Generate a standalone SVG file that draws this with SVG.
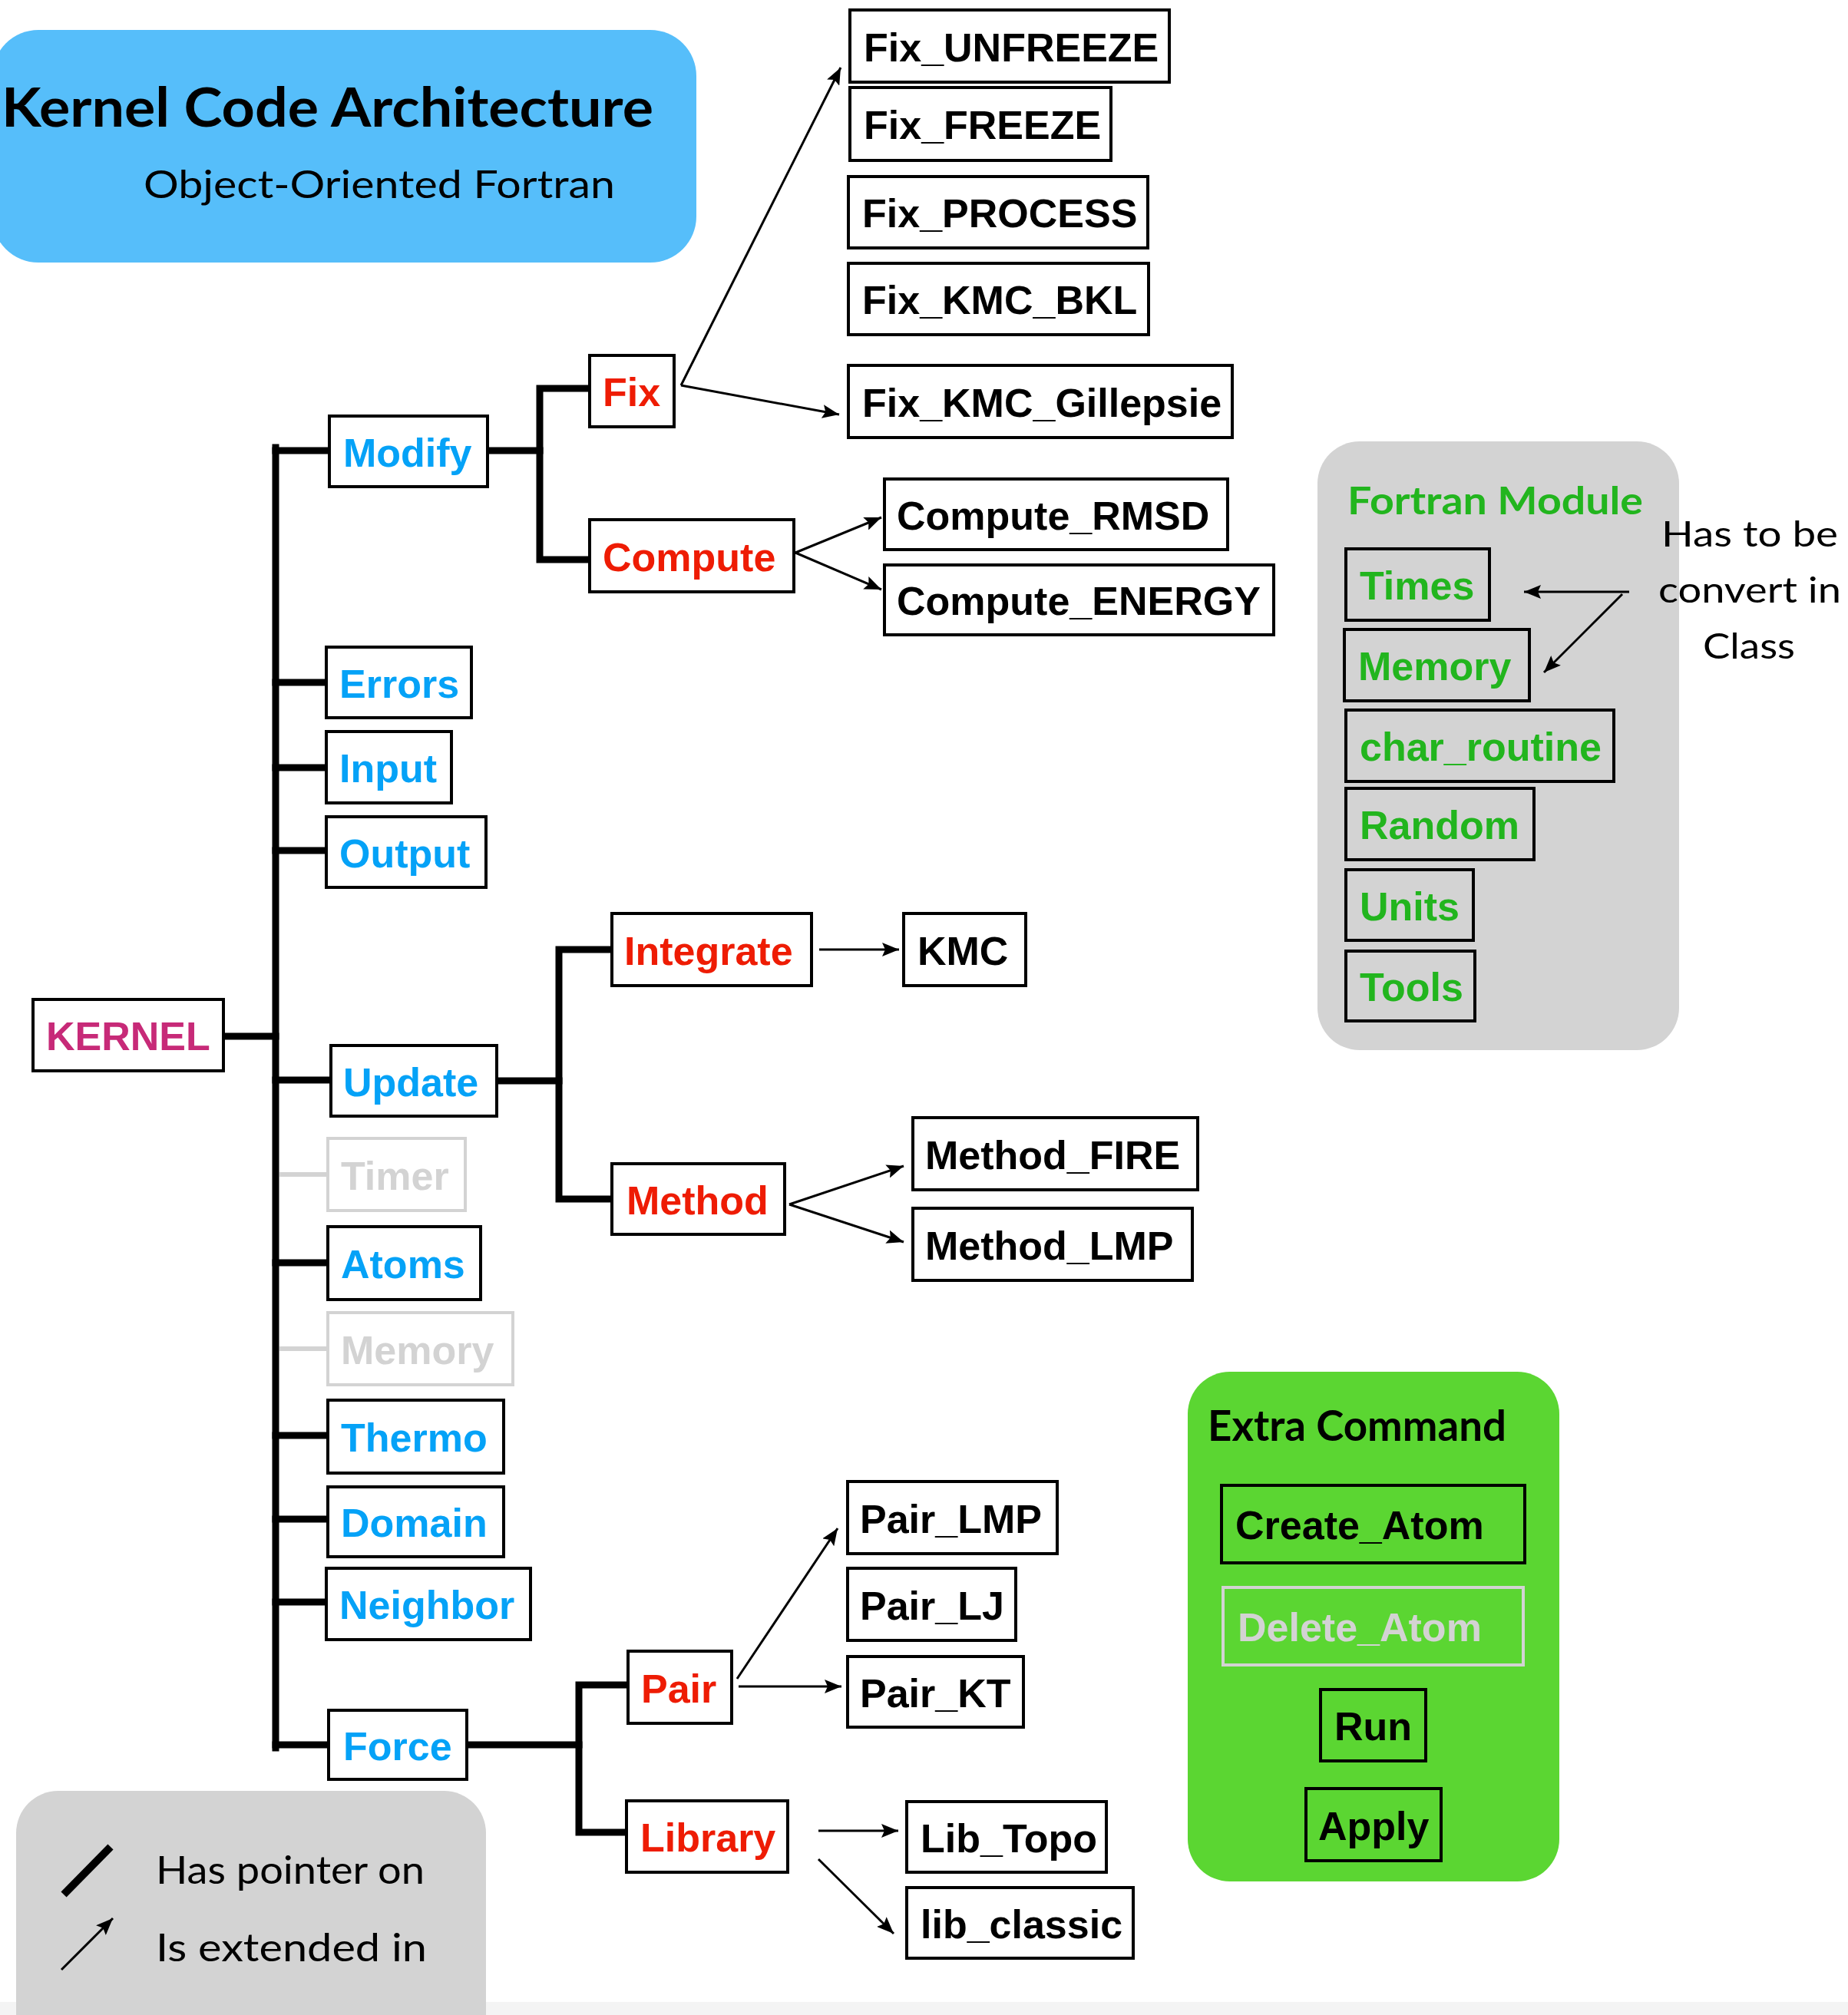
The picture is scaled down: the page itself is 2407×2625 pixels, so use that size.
<svg xmlns="http://www.w3.org/2000/svg" width="2407" height="2625" viewBox="0 0 2407 2625">
  <style>
    .box { fill: #ffffff; stroke: #000000; stroke-width: 4; }
    .obox { fill: none; stroke: #000000; stroke-width: 4; }
    .dim { fill: #ffffff; stroke: #d3d3d3; stroke-width: 4; }
    .dimo { fill: none; stroke: #d3d3d3; stroke-width: 4; }
    .t { font-family: "Liberation Sans", Arial, Helvetica, sans-serif; font-weight: bold; font-size: 52px; }
    .blue { fill: #05a2f7; }
    .red { fill: #ee1c04; }
    .blk { fill: #000000; }
    .grn { fill: #22b51e; }
    .gry { fill: #d3d3d3; }
    .mag { fill: #c72a78; }
    .hand { font-family: Lato, "DejaVu Sans", sans-serif; fill: #000000; }
    .tree { fill: none; stroke: #000000; stroke-width: 9; stroke-linecap: square; }
    .faint { fill: none; stroke: #d3d3d3; stroke-width: 6; }
    .arr { fill: none; stroke: #000000; stroke-width: 3; marker-end: url(#head); }
  </style>
  <defs>
    <marker id="head" markerUnits="userSpaceOnUse" markerWidth="24" markerHeight="18" refX="22" refY="9" orient="auto">
      <path d="M0,0 L22,9 L0,18 L4,9 z" fill="#000000"/>
    </marker>
  </defs>

  <rect x="0" y="0" width="2407" height="2625" fill="#ffffff"/>
  <rect x="0" y="2608" width="2407" height="17" fill="#f4f4f4"/>

  <!-- title panel -->
  <g id="title">
    <rect x="-10" y="39" width="917" height="303" rx="60" fill="#56befa"/>
    <text class="hand" x="2" y="165" font-size="70" font-weight="bold" textLength="849" lengthAdjust="spacingAndGlyphs">Kernel Code Architecture</text>
    <text class="hand" x="187" y="258" font-size="51" textLength="614" lengthAdjust="spacingAndGlyphs">Object-Oriented Fortran</text>
  </g>

  <!-- tree connectors and extension arrows -->
  <g id="connectors">
    <path class="tree" d="M359,583 V2277"/>
    <path class="tree" d="M291,1350 H359"/>
    <path class="tree" d="M359,587 H429"/>
    <path class="tree" d="M359,889 H425"/>
    <path class="tree" d="M359,1000 H425"/>
    <path class="tree" d="M359,1108 H425"/>
    <path class="tree" d="M359,1407 H431"/>
    <path class="faint" d="M364,1530 H427"/>
    <path class="tree" d="M359,1645 H427"/>
    <path class="faint" d="M364,1757 H427"/>
    <path class="tree" d="M359,1870 H427"/>
    <path class="tree" d="M359,1979 H427"/>
    <path class="tree" d="M359,2087 H425"/>
    <path class="tree" d="M359,2273 H428"/>

    <path class="tree" d="M635,587 H703"/>
    <path class="tree" d="M768,506 H703 V729 H768"/>
    <path class="tree" d="M647,1408 H728"/>
    <path class="tree" d="M797,1237 H728 V1562 H797"/>
    <path class="tree" d="M608,2273 H754"/>
    <path class="tree" d="M818,2195 H754 V2387 H816"/>

    <path class="arr" d="M887,502 L1095,88"/>
    <path class="arr" d="M887,502 L1093,540"/>
    <path class="arr" d="M1036,720 L1148,674"/>
    <path class="arr" d="M1036,720 L1148,768"/>
    <path class="arr" d="M1067,1237 L1171,1237"/>
    <path class="arr" d="M1028,1569 L1177,1519"/>
    <path class="arr" d="M1028,1569 L1177,1618"/>
    <path class="arr" d="M960,2187 L1091,1991"/>
    <path class="arr" d="M962,2197 L1096,2197"/>
    <path class="arr" d="M1066,2385 L1170,2385"/>
    <path class="arr" d="M1066,2422 L1164,2519"/>
  </g>

  <!-- root -->
  <g id="kernel"><rect class="box" x="43" y="1302" width="248" height="93"/><text class="t mag" x="60" y="1368">KERNEL</text></g>

  <!-- first level -->
  <g id="modify"><rect class="box" x="429" y="542" width="206" height="92"/><text class="t blue" x="447" y="608">Modify</text></g>
  <g id="errors"><rect class="box" x="425" y="843" width="189" height="92"/><text class="t blue" x="442" y="909">Errors</text></g>
  <g id="input"><rect class="box" x="425" y="953" width="163" height="93"/><text class="t blue" x="442" y="1019">Input</text></g>
  <g id="output"><rect class="box" x="425" y="1064" width="208" height="92"/><text class="t blue" x="442" y="1130">Output</text></g>
  <g id="update"><rect class="box" x="431" y="1362" width="216" height="92"/><text class="t blue" x="447" y="1428">Update</text></g>
  <g id="timer"><rect class="dim" x="427" y="1483" width="179" height="94"/><text class="t gry" x="444" y="1550">Timer</text></g>
  <g id="atoms"><rect class="box" x="427" y="1598" width="199" height="95"/><text class="t blue" x="444" y="1665">Atoms</text></g>
  <g id="memory"><rect class="dim" x="427" y="1710" width="241" height="94"/><text class="t gry" x="444" y="1777">Memory</text></g>
  <g id="thermo"><rect class="box" x="427" y="1824" width="229" height="95"/><text class="t blue" x="444" y="1891">Thermo</text></g>
  <g id="domain"><rect class="box" x="427" y="1937" width="229" height="91"/><text class="t blue" x="444" y="2002">Domain</text></g>
  <g id="neighbor"><rect class="box" x="425" y="2043" width="266" height="93"/><text class="t blue" x="442" y="2109">Neighbor</text></g>
  <g id="force"><rect class="box" x="428" y="2228" width="180" height="90"/><text class="t blue" x="447" y="2293">Force</text></g>

  <!-- second level -->
  <g id="fix"><rect class="box" x="768" y="463" width="110" height="93"/><text class="t red" x="785" y="529">Fix</text></g>
  <g id="compute"><rect class="box" x="768" y="677" width="266" height="94"/><text class="t red" x="785" y="744">Compute</text></g>
  <g id="integrate"><rect class="box" x="797" y="1190" width="260" height="94"/><text class="t red" x="813" y="1257">Integrate</text></g>
  <g id="method"><rect class="box" x="797" y="1516" width="225" height="92"/><text class="t red" x="816" y="1582">Method</text></g>
  <g id="pair"><rect class="box" x="818" y="2151" width="135" height="94"/><text class="t red" x="835" y="2218">Pair</text></g>
  <g id="library"><rect class="box" x="816" y="2346" width="210" height="93"/><text class="t red" x="834" y="2412">Library</text></g>

  <!-- extensions -->
  <g id="fix-unfreeze"><rect class="box" x="1107" y="13" width="416" height="94"/><text class="t blk" x="1125" y="80">Fix_UNFREEZE</text></g>
  <g id="fix-freeze"><rect class="box" x="1107" y="114" width="340" height="95"/><text class="t blk" x="1125" y="181">Fix_FREEZE</text></g>
  <g id="fix-process"><rect class="box" x="1105" y="230" width="390" height="93"/><text class="t blk" x="1123" y="296">Fix_PROCESS</text></g>
  <g id="fix-kmc-bkl"><rect class="box" x="1105" y="343" width="391" height="93"/><text class="t blk" x="1123" y="409">Fix_KMC_BKL</text></g>
  <g id="fix-kmc-gillepsie"><rect class="box" x="1105" y="476" width="500" height="94"/><text class="t blk" x="1123" y="543">Fix_KMC_Gillepsie</text></g>
  <g id="compute-rmsd"><rect class="box" x="1152" y="624" width="447" height="92"/><text class="t blk" x="1168" y="690">Compute_RMSD</text></g>
  <g id="compute-energy"><rect class="box" x="1152" y="736" width="507" height="91"/><text class="t blk" x="1168" y="801">Compute_ENERGY</text></g>
  <g id="kmc"><rect class="box" x="1177" y="1190" width="159" height="94"/><text class="t blk" x="1195" y="1257">KMC</text></g>
  <g id="method-fire"><rect class="box" x="1189" y="1456" width="371" height="94"/><text class="t blk" x="1205" y="1523">Method_FIRE</text></g>
  <g id="method-lmp"><rect class="box" x="1189" y="1574" width="364" height="94"/><text class="t blk" x="1205" y="1641">Method_LMP</text></g>
  <g id="pair-lmp"><rect class="box" x="1104" y="1930" width="273" height="94"/><text class="t blk" x="1120" y="1997">Pair_LMP</text></g>
  <g id="pair-lj"><rect class="box" x="1104" y="2043" width="219" height="94"/><text class="t blk" x="1120" y="2110">Pair_LJ</text></g>
  <g id="pair-kt"><rect class="box" x="1104" y="2158" width="229" height="92"/><text class="t blk" x="1120" y="2224">Pair_KT</text></g>
  <g id="lib-topo"><rect class="box" x="1181" y="2347" width="260" height="92"/><text class="t blk" x="1199" y="2413">Lib_Topo</text></g>
  <g id="lib-classic"><rect class="box" x="1181" y="2459" width="295" height="92"/><text class="t blk" x="1199" y="2525">lib_classic</text></g>

  <!-- Fortran module panel -->
  <g id="fortran-module">
    <rect x="1716" y="575" width="471" height="793" rx="55" fill="#d3d3d3"/>
    <text class="hand" x="1755" y="670" font-size="50" font-weight="bold" fill="#22b51e" style="fill:#22b51e" textLength="385" lengthAdjust="spacingAndGlyphs">Fortran Module</text>
    <g id="mod-times"><rect class="obox" x="1753" y="715" width="187" height="93"/><text class="t grn" x="1771" y="781">Times</text></g>
    <g id="mod-memory"><rect class="obox" x="1751" y="820" width="241" height="93"/><text class="t grn" x="1769" y="886">Memory</text></g>
    <g id="mod-char-routine"><rect class="obox" x="1753" y="925" width="349" height="93"/><text class="t grn" x="1771" y="991">char_routine</text></g>
    <g id="mod-random"><rect class="obox" x="1753" y="1027" width="245" height="93"/><text class="t grn" x="1771" y="1093">Random</text></g>
    <g id="mod-units"><rect class="obox" x="1753" y="1133" width="166" height="92"/><text class="t grn" x="1771" y="1199">Units</text></g>
    <g id="mod-tools"><rect class="obox" x="1753" y="1239" width="168" height="91"/><text class="t grn" x="1771" y="1304">Tools</text></g>
  </g>

  <!-- note on modules still to be turned into classes -->
  <g id="note">
    <text class="hand" x="2279" y="712" font-size="46" text-anchor="middle" textLength="230" lengthAdjust="spacingAndGlyphs">Has to be</text>
    <text class="hand" x="2279" y="785" font-size="46" text-anchor="middle" textLength="238" lengthAdjust="spacingAndGlyphs">convert in</text>
    <text class="hand" x="2278" y="858" font-size="46" text-anchor="middle" textLength="120" lengthAdjust="spacingAndGlyphs">Class</text>
    <path class="arr" d="M2122,771 L1985,771"/>
    <path class="arr" d="M2113,774 L2011,876"/>
  </g>

  <!-- extra command panel -->
  <g id="extra-command">
    <rect x="1547" y="1787" width="484" height="664" rx="55" fill="#5bd632"/>
    <text class="hand" x="1573" y="1877" font-size="56" font-weight="bold" textLength="389" lengthAdjust="spacingAndGlyphs">Extra Command</text>
    <g id="cmd-create-atom"><rect class="obox" x="1591" y="1935" width="395" height="101"/><text class="t blk" x="1609" y="2005">Create_Atom</text></g>
    <g id="cmd-delete-atom"><rect class="dimo" x="1593" y="2068" width="391" height="101"/><text class="t gry" x="1612" y="2138">Delete_Atom</text></g>
    <g id="cmd-run"><rect class="obox" x="1720" y="2201" width="137" height="93"/><text class="t blk" x="1738" y="2267">Run</text></g>
    <g id="cmd-apply"><rect class="obox" x="1701" y="2330" width="176" height="94"/><text class="t blk" x="1717" y="2397">Apply</text></g>
  </g>

  <!-- legend -->
  <g id="legend">
    <rect x="21" y="2333" width="612" height="360" rx="55" fill="#d3d3d3"/>
    <path d="M83,2468 L144,2406" stroke="#000000" stroke-width="10" fill="none"/>
    <path class="arr" d="M80,2566 L147,2499"/>
    <text class="hand" x="203" y="2454" font-size="50" textLength="350" lengthAdjust="spacingAndGlyphs">Has pointer on</text>
    <text class="hand" x="203" y="2555" font-size="50" textLength="353" lengthAdjust="spacingAndGlyphs">Is extended in</text>
  </g>
</svg>
